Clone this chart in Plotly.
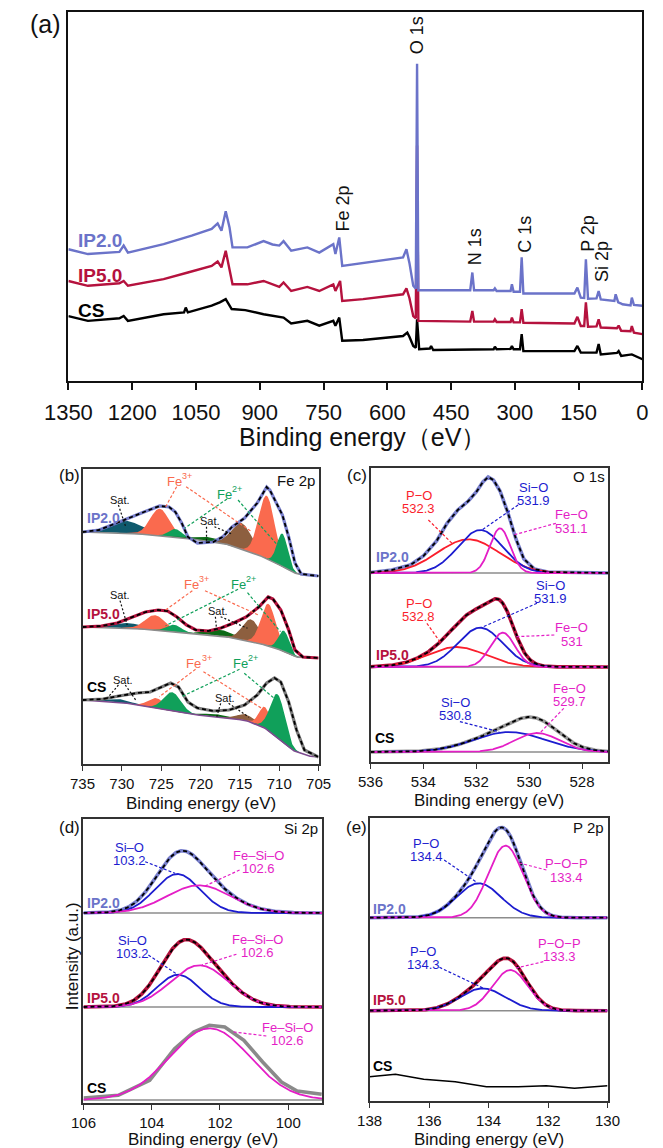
import numpy as np
import plotly.graph_objects as go

W, H = 663, 1148
FONT = "Liberation Sans, Arial, Helvetica, sans-serif"

# ===================== DATA =====================
# ---- (a) survey spectra (binding energy eV, intensity a.u.) ----
survey_ticks = [1350, 1200, 1050, 900, 750, 600, 450, 300, 150, 0]
survey_IP2_E = [1350, 1304, 1230, 1220, 1210, 1126, 1060, 1013, 999, 990, 980, 971, 964, 929, 891, 870, 854, 844, 826, 788,
                760, 727, 722, 713, 706, 676, 610, 563, 555, 548, 539, 533, 530, 527, 405, 400, 396, 350, 347, 343,
                310, 307, 303, 288, 284, 280, 160, 153, 145, 137, 133, 128, 108, 103, 98, 66, 63, 57, 50, 47,
                28, 25, 20, 0]
survey_IP2_I = [35.7, 34.4, 35.0, 36.7, 34.8, 37.1, 39.4, 41.2, 42.7, 40.7, 46.0, 41.6, 36.2, 36.2, 37.9, 37.0, 36.7, 37.9, 35.3, 36.2,
                34.8, 37.1, 34.4, 38.9, 31.2, 31.7, 32.6, 33.5, 35.7, 32.0, 25.8, 25.0, 86.0, 24.6, 24.6, 29.4, 24.6, 24.6, 25.1, 24.4,
                24.4, 26.2, 24.2, 24.2, 33.5, 23.7, 23.7, 25.3, 22.6, 22.5, 33.0, 22.3, 22.4, 24.4, 22.1, 21.7, 23.5, 21.3, 21.0, 20.8,
                20.5, 22.6, 20.6, 20.4]
survey_IP5_E = [1350, 1304, 1230, 1220, 1210, 1126, 1069, 1013, 999, 990, 980, 971, 964, 929, 891, 854, 844, 826, 788, 760,
                727, 722, 711, 706, 657, 563, 555, 548, 539, 533, 530, 527, 405, 400, 396, 350, 347, 343, 310, 307,
                303, 288, 284, 280, 160, 153, 145, 137, 133, 128, 108, 103, 98, 60, 56, 50, 28, 25, 20, 0]
survey_IP5_I = [27.1, 25.8, 26.5, 27.1, 25.8, 27.6, 29.4, 31.2, 32.4, 30.8, 35.3, 30.3, 26.2, 26.2, 27.1, 25.5, 26.7, 24.4, 25.5, 24.4,
                26.2, 24.4, 27.1, 21.7, 22.2, 23.5, 25.1, 22.5, 17.6, 17.0, 63.8, 16.3, 16.1, 19.0, 16.1, 16.1, 16.7, 16.0, 16.0, 17.2,
                15.9, 15.9, 19.5, 15.8, 15.6, 17.4, 14.9, 14.9, 21.3, 14.7, 14.8, 16.7, 14.5, 14.3, 15.0, 13.6, 13.5, 14.9, 13.1, 12.7]
survey_CS_E = [1350, 1304, 1230, 1220, 1210, 1126, 1078, 1074, 1069, 1013, 994, 980, 966, 934, 891, 844, 826, 788, 760, 727,
               722, 713, 706, 657, 563, 553, 548, 539, 533, 530, 525, 500, 497, 492, 350, 347, 343, 310, 307, 303,
               288, 284, 280, 160, 153, 145, 108, 103, 98, 60, 56, 50, 25, 0]
survey_CS_I = [17.6, 16.3, 17.0, 17.6, 16.3, 18.1, 18.6, 19.9, 18.6, 20.4, 21.3, 22.2, 19.5, 19.2, 18.1, 17.2, 15.6, 16.3, 15.0, 16.3,
               15.0, 17.2, 10.9, 11.1, 12.2, 13.1, 12.0, 9.5, 9.0, 16.7, 8.6, 8.8, 9.5, 8.4, 8.6, 9.3, 8.6, 8.7, 9.5, 8.6,
               8.6, 12.7, 8.1, 8.1, 9.5, 7.7, 7.7, 10.0, 7.2, 7.6, 8.1, 6.8, 7.2, 5.9]
survey_peak_labels = ["O 1s", "Fe 2p", "N 1s", "C 1s", "P 2p", "Si 2p"]
survey_peak_E = [530, 703, 394, 277, 127, 94]

sample_names = ["IP2.0", "IP5.0", "CS"]

# ---- (b) Fe 2p ----
fe_ticks = [735, 730, 725, 720, 715, 710, 705]
fe_comp_names = ["Sat.", "Fe3+", "Fe2+", "Sat.", "Sat.", "Fe3+", "Fe2+"]
fe_IP2_bg_E = [735, 729.2, 723.2, 717.2, 713.2, 710.4, 708.4, 707.2, 705]
fe_IP2_bg_I = [232, 231, 227, 221, 211, 201, 192, 189, 188]
fe_IP2_E = [735, 732.9, 731.3, 729.2, 727.2, 725.2, 724.0, 723.2, 722.4, 721.6, 720.4, 718.4, 717.2, 716.0, 714.4, 712.8,
            711.6, 711.2, 710.4, 709.6, 708.8, 708.0, 707.2, 705]
fe_IP2_I = [232, 234, 239, 246, 252, 258, 257, 252, 241, 227, 221, 222, 227, 237, 246, 261, 277, 274, 261, 249, 227, 201, 190, 188]
fe_IP2_center = [729.5, 725.2, 723.2, 719.0, 714.8, 711.6, 709.6]
fe_IP2_height = [12, 27, 8, 4, 26, 63, 33]
fe_IP2_fwhm = [5.0, 2.8, 2.0, 4.0, 3.0, 2.4, 1.6]

fe_IP5_bg_E = [735, 729, 723.0, 717.2, 713.2, 710.4, 708.0, 705]
fe_IP5_bg_I = [137, 136, 132, 128, 122, 116, 107, 106]
fe_IP5_E = [735, 732.6, 730.6, 729, 727, 725.4, 724.2, 723, 721.8, 720.6, 719, 717.4, 715.8, 714.2, 712.6, 711.4, 710.8,
            709.8, 708.8, 708, 707, 705]
fe_IP5_I = [137, 138, 141, 146, 152, 154, 153, 147, 139, 134, 133, 136, 141, 147, 157, 167, 165, 154, 134, 114, 107, 106]
fe_IP5_center = [729.5, 725.8, 723.4, 717.5, 713.6, 711.4, 709.4]
fe_IP5_height = [5, 15, 7, 6, 22, 42, 21]
fe_IP5_fwhm = [5.0, 3.0, 2.2, 4.0, 2.6, 2.2, 1.6]

fe_CS_bg_E = [735, 730.4, 726.4, 722.4, 718.4, 714.4, 712.0, 710.4, 708.4, 706.4, 705]
fe_CS_bg_I = [64, 62, 57, 51, 47, 44, 37, 27, 14, 8, 7]
fe_CS_E = [735, 732.4, 730.4, 728, 726.4, 724.8, 723.8, 722.8, 721.6, 720.4, 718.4, 716.4, 714.4, 712.8, 711.6, 710.6,
           709.8, 708.8, 707.8, 706.8, 705]
fe_CS_I = [64, 65, 68, 71, 72, 78, 81, 77, 62, 56, 53, 54, 59, 69, 81, 86, 82, 62, 34, 14, 7]
fe_CS_center = [730.5, 725.6, 723.6, 718.0, 714.2, 711.8, 710.2]
fe_CS_height = [3, 10, 19, 3, 6, 21, 44]
fe_CS_fwhm = [4.0, 2.5, 2.6, 4.0, 3.0, 1.8, 2.2]

# ---- (c) O 1s ----
o1s_ticks = [536, 534, 532, 530, 528]
o1s_offset = [189, 95, 10]
o1s_IP2_E = [536, 535.2, 534.5, 534.0, 533.5, 533.1, 532.7, 532.3, 532.0, 531.75, 531.55, 531.35, 531.1, 530.8, 530.5,
             530.2, 529.8, 529.3, 527]
o1s_IP2_I = [0.5, 3, 8, 17, 32, 50, 63, 72, 81, 91, 96, 93, 82, 60, 34, 14, 4, 1, 0]
o1s_IP2_names = ["P−O", "Si−O", "Fe−O"]
o1s_IP2_center = [532.3, 531.85, 531.1]
o1s_IP2_height = [33.7, 43, 44.7]
o1s_IP2_fwhm = [2.75, 2.0, 0.9]
o1s_IP5_names = ["P−O", "Si−O", "Fe−O"]
o1s_IP5_center = [532.75, 531.85, 531.0]
o1s_IP5_height = [20, 39.3, 34.3]
o1s_IP5_fwhm = [2.6, 2.0, 1.1]
o1s_CS_names = ["Si−O", "Fe−O"]
o1s_CS_center = [530.75, 529.7]
o1s_CS_height = [20, 19]
o1s_CS_fwhm = [3.2, 2.0]

# ---- (d) Si 2p ----
si_ticks = [106, 104, 102, 100]
si_offset = [190, 96, 3]
si_IP2_names = ["Si–O", "Fe–Si–O"]
si_IP2_center = [103.25, 102.62]
si_IP2_height = [39, 27.7]
si_IP2_fwhm = [1.55, 2.2]
si_IP5_names = ["Si–O", "Fe–Si–O"]
si_IP5_center = [103.23, 102.6]
si_IP5_height = [32.3, 41.7]
si_IP5_fwhm = [1.45, 2.0]
si_CS_names = ["Fe–Si–O"]
si_CS_center = [102.3]
si_CS_height = [71.7]
si_CS_fwhm = [2.75]
si_CS_E = [106, 104.98, 104.06, 103.33, 102.77, 102.31, 101.86, 101.30, 100.75, 100.20, 99.74, 99.02]
si_CS_I = [2, 4.7, 19.7, 51.3, 68, 74.7, 73, 59.7, 38, 18, 9, 5.7]

# ---- (e) P 2p ----
p_ticks = [138, 136, 134, 132, 130]
p_offset = [183.3, 90.3]
p_IP2_names = ["P−O", "P−O−P"]
p_IP2_center = [134.33, 133.43]
p_IP2_height = [34.4, 72]
p_IP2_fwhm = [1.75, 1.38]
p_IP5_names = ["P−O", "P−O−P"]
p_IP5_center = [134.2, 133.27]
p_IP5_height = [22.3, 40.7]
p_IP5_fwhm = [1.8, 1.4]
p_CS_E = [138, 137.13, 136.18, 135.12, 134.07, 133.0, 132.06, 131.11, 130]
p_CS_I = [24.3, 26.7, 21.7, 19.3, 14.3, 14.3, 15.3, 12.7, 15.3]

# ===================== STYLE =====================
C_IP2 = "#6b73c9"
C_IP2_T = "rgba(107,115,201,0.9)"
C_IP5 = "#b5123e"
C_RED = "#fa1e2c"
C_BLUE = "#1c1ccf"
C_MAG = "#e41ec6"
C_GREY = "#8c8c8c"
C_SALMON = "#fa6a4e"
C_GREEN = "#10a05a"
C_TEAL = "#0f5a6d"
C_DKGREEN = "#0c6a16"
C_BROWN = "#8d5f3f"
FE_COLORS = [C_TEAL, C_SALMON, C_GREEN, C_DKGREEN, C_BROWN, C_SALMON, C_GREEN]


def gauss(x, c, a, w):
    return a * np.exp(-4 * np.log(2) * ((x - c) / w) ** 2)


fig = go.Figure()


def add_line(x, y, xa, ya, color, width, dash=None):
    fig.add_trace(go.Scatter(x=list(x), y=list(y), mode="lines",
                             line=dict(color=color, width=width, dash=dash),
                             xaxis=xa, yaxis=ya, showlegend=False, hoverinfo="skip"))


# ---- (a) ----
add_line(survey_CS_E, survey_CS_I, "x", "y", "#000000", 2.4)
add_line(survey_IP5_E, survey_IP5_I, "x", "y", C_IP5, 2.4)
add_line(survey_IP2_E, survey_IP2_I, "x", "y", C_IP2, 2.4)

# ---- (b) ----
grid_b = np.linspace(735, 705, 500)
fe_sets = [
    (fe_IP2_bg_E, fe_IP2_bg_I, fe_IP2_E, fe_IP2_I, fe_IP2_center, fe_IP2_height, fe_IP2_fwhm, C_IP2_T, C_GREY),
    (fe_IP5_bg_E, fe_IP5_bg_I, fe_IP5_E, fe_IP5_I, fe_IP5_center, fe_IP5_height, fe_IP5_fwhm, C_IP5, C_GREY),
    (fe_CS_bg_E, fe_CS_bg_I, fe_CS_E, fe_CS_I, fe_CS_center, fe_CS_height, fe_CS_fwhm, "#7a7a7a", "#7d4a8f"),
]
for bgE, bgI, eE, eI, cen, hgt, fw, ecol, bgcol in fe_sets:
    bg = np.interp(grid_b, bgE[::-1], bgI[::-1])
    for c, a, w, col in zip(cen, hgt, fw, FE_COLORS):
        g = gauss(grid_b, c, a, w)
        m = g > 0.05
        xs = grid_b[m]
        fig.add_trace(go.Scatter(x=np.r_[xs, xs[::-1]], y=np.r_[(bg + g)[m], bg[m][::-1]],
                                 mode="lines", fill="toself", fillcolor=col, line=dict(width=0, color=col),
                                 xaxis="x2", yaxis="y2", showlegend=False, hoverinfo="skip"))
    add_line(grid_b, bg, "x2", "y2", bgcol, 1.6)
    add_line(eE, eI, "x2", "y2", ecol, 3.2)
    add_line(eE, eI, "x2", "y2", "#000000", 1.8, "4px,3px")


def fit_section(xa, ya, grid, offset, cen, hgt, fw, cols, ecol, envE=None, envI=None, draw_env=True):
    add_line([grid[0], grid[-1]], [offset, offset], xa, ya, C_GREY, 1.6)
    comps = [gauss(grid, c, a, w) for c, a, w in zip(cen, hgt, fw)]
    if envE is None:
        ex = grid
        ey = offset + np.sum(comps, axis=0)
    else:
        ex = np.array(envE)
        ey = offset + np.array(envI)
    add_line(ex, ey, xa, ya, ecol, 3.6)
    for g, col in zip(comps, cols):
        add_line(grid, offset + g, xa, ya, col, 1.8)
    if draw_env:
        add_line(ex, ey, xa, ya, "#000000", 1.8, "4px,3px")


# ---- (c) ----
grid_c = np.linspace(536, 527, 400)
fit_section("x3", "y3", grid_c, o1s_offset[0], o1s_IP2_center, o1s_IP2_height, o1s_IP2_fwhm,
            [C_RED, C_BLUE, C_MAG], C_IP2_T, o1s_IP2_E, o1s_IP2_I)
fit_section("x3", "y3", grid_c, o1s_offset[1], o1s_IP5_center, o1s_IP5_height, o1s_IP5_fwhm,
            [C_RED, C_BLUE, C_MAG], C_IP5)
fit_section("x3", "y3", grid_c, o1s_offset[2], o1s_CS_center, o1s_CS_height, o1s_CS_fwhm,
            [C_BLUE, C_MAG], "#9a9a9a")

# ---- (d) ----
grid_d = np.linspace(106, 99, 400)
fit_section("x4", "y4", grid_d, si_offset[0], si_IP2_center, si_IP2_height, si_IP2_fwhm,
            [C_BLUE, C_MAG], C_IP2_T)
fit_section("x4", "y4", grid_d, si_offset[1], si_IP5_center, si_IP5_height, si_IP5_fwhm,
            [C_BLUE, C_MAG], C_IP5)
fit_section("x4", "y4", grid_d, si_offset[2], si_CS_center, si_CS_height, si_CS_fwhm,
            [C_MAG], "#8a8a8a", si_CS_E, si_CS_I, draw_env=False)

# ---- (e) ----
grid_e = np.linspace(138, 130, 400)
fit_section("x5", "y5", grid_e, p_offset[0], p_IP2_center, p_IP2_height, p_IP2_fwhm,
            [C_BLUE, C_MAG], C_IP2_T)
fit_section("x5", "y5", grid_e, p_offset[1], p_IP5_center, p_IP5_height, p_IP5_fwhm,
            [C_BLUE, C_MAG], C_IP5)
add_line(p_CS_E, p_CS_I, "x5", "y5", "#000000", 1.6)

# ===================== LAYOUT =====================
def dx(a, b):
    return [a / W, b / W]


def dy(top, bottom):
    return [1 - bottom / H, 1 - top / H]


def sub_x(dom, rng, ticks, anchor):
    return dict(domain=dom, range=rng, tickvals=ticks, anchor=anchor, showline=True, mirror=True,
                linecolor="#333333", linewidth=1.5, ticks="outside", ticklen=5, tickwidth=1.4,
                tickcolor="#333333", tickfont=dict(size=15, color="#111111", family=FONT),
                showgrid=False, zeroline=False)


def sub_y(dom, rng, anchor):
    return dict(domain=dom, range=rng, anchor=anchor, showline=True, mirror=True, linecolor="#333333",
                linewidth=1.5, ticks="", showticklabels=False, showgrid=False, zeroline=False)


ann = []


def T(text, px, py, color="#111111", size=13, bold=False, xanchor="center", angle=0):
    if bold:
        text = "<b>" + text + "</b>"
    ann.append(dict(text=text, x=px / W, y=1 - py / H, xref="paper", yref="paper", showarrow=False,
                    xanchor=xanchor, yanchor="middle", textangle=angle,
                    font=dict(family=FONT, size=size, color=color)))


def FE(charge, px, py, color):
    # "Fe" with a raised charge, as two plain texts
    T("Fe", px + 2, py, color, 13, xanchor="right")
    T(charge, px - 1.5, py - 5, color, 9, xanchor="left")


shapes = []


def L(x0, y0, x1, y1, color, dash="3px,2px", width=1.2):
    shapes.append(dict(type="line", xref="paper", yref="paper", x0=x0 / W, y0=1 - y0 / H,
                       x1=x1 / W, y1=1 - y1 / H, line=dict(color=color, width=width, dash=dash)))


# (a) labels (data coordinates)
for lab, e, i in zip(survey_peak_labels, survey_peak_E, [93.7, 46.6, 36.5, 39.8, 40.0, 32.4]):
    ann.append(dict(text=lab, x=e, y=i, xref="x", yref="y", showarrow=False, textangle=-90,
                    font=dict(family=FONT, size=18, color="#111111")))
for nm, i, col in zip(sample_names, [38.2, 28.5, 19.2], [C_IP2, C_IP5, "#000000"]):
    ann.append(dict(text="<b>" + nm + "</b>", x=1332, y=i, xref="x", yref="y", showarrow=False,
                    xanchor="left", font=dict(family=FONT, size=19, color=col)))
T("(a)", 23, 24, size=25)
T("Binding energy（eV）", 358, 437, size=25)

# panel tags / titles
T("(b)", 48, 476, size=17)
T("(c)", 353, 476, size=17)
T("(d)", 48, 827, size=17)
T("(e)", 352, 827, size=17)
T("Fe 2p", 310, 480, size=15, xanchor="right")
T("O 1s", 617, 477, size=15, xanchor="right")
T("Si 2p", 314, 828, size=15, xanchor="right")
T("P 2p", 616, 827, size=15, xanchor="right")
T("Binding energy (eV)", 187, 803, size=17)
T("Binding energy (eV)", 493, 800, size=17)
T("Binding energy (eV)", 190, 1139, size=17)
T("Binding energy (eV)", 492, 1139, size=17)
T("Intensity (a.u.)", 51, 956, size=17, angle=-90)

# (b) labels
T(sample_names[0], 65, 518, C_IP2, 14, True, "left")
T(sample_names[1], 65, 614, C_IP5, 14, True, "left")
T(sample_names[2], 65, 687, "#000000", 14, True, "left")
# IP2.0
FE("3+", 167, 481, C_SALMON); FE("2+", 220, 494, C_GREEN)
T("Sat.", 102, 500, "#111111", 11); T("Sat.", 197, 521, "#111111", 11)
L(161.7, 486.7, 150, 506.7, C_SALMON); L(171.7, 486.7, 240, 531, C_SALMON)
L(215, 499, 170, 528.3, C_GREEN); L(226.7, 500, 268.3, 545, C_GREEN)
L(100, 505, 107.7, 526.7, "#111111", "2px,2px"); L(193.3, 526.7, 193.3, 541.7, "#111111", "2px,2px")
L(201.7, 526.7, 220, 534, "#111111", "2px,2px")
# IP5.0
FE("3+", 185, 584, C_SALMON); FE("2+", 235, 584, C_GREEN)
T("Sat.", 102, 595, "#111111", 11); T("Sat.", 205, 611, "#111111", 11)
L(178.3, 590.7, 150, 610, C_SALMON); L(191.7, 590.7, 248.3, 615, C_SALMON)
L(226.7, 589.3, 150, 625.7, C_GREEN); L(236.7, 592.7, 271.7, 631.7, C_GREEN)
L(101.7, 600.7, 109.3, 625, "#111111", "2px,2px"); L(202.7, 616.7, 204, 630, "#111111", "2px,2px")
L(208.3, 616.7, 236.7, 628.3, "#111111", "2px,2px")
# CS
FE("3+", 188, 663, C_SALMON); FE("2+", 237, 663, C_GREEN)
T("Sat.", 105, 680, "#111111", 11); T("Sat.", 213, 698, "#111111", 11)
L(181.7, 669.3, 143.3, 696.7, C_SALMON); L(190, 671.7, 251.7, 708.3, C_SALMON)
L(228.3, 669.3, 166.7, 696.7, C_GREEN); L(233.3, 673.3, 265, 698.3, C_GREEN)
L(100, 685, 87.3, 699.3, "#111111", "2px,2px"); L(107.3, 685, 118.3, 700, "#111111", "2px,2px")
L(208.3, 703.3, 204, 717.3, "#111111", "2px,2px"); L(216.7, 703.3, 238.3, 717.3, "#111111", "2px,2px")

# (c) labels
T(sample_names[0], 371, 557, C_IP2, 14, True, "left")
T(sample_names[1], 371, 655, C_IP5, 14, True, "left")
T(sample_names[2], 370, 738, "#000000", 14, True, "left")
T(o1s_IP2_names[0], 418, 495, C_RED); T("532.3", 418, 508.5, C_RED)
T(o1s_IP2_names[1], 540, 487, C_BLUE); T("531.9", 540, 500.5, C_BLUE)
T(o1s_IP2_names[2], 580, 515, C_MAG); T("531.1", 580, 528.5, C_MAG)
L(428.3, 520, 453.3, 543.3, C_RED); L(523.3, 505, 485, 530, C_BLUE); L(563.3, 523.3, 518.3, 535, C_MAG)
T(o1s_IP5_names[0], 418, 603, C_RED); T("532.8", 418, 616.5, C_RED)
T(o1s_IP5_names[1], 558, 585, C_BLUE); T("531.9", 558, 598.5, C_BLUE)
T(o1s_IP5_names[2], 580, 627, C_MAG); T("531", 580, 641, C_MAG)
L(426.7, 623.3, 441.7, 643.3, C_RED); L(543.3, 603.3, 485, 627.3, C_BLUE); L(561.7, 635, 520, 636.7, C_MAG)
T(o1s_CS_names[0], 457, 702, C_BLUE); T("530.8", 457, 715.5, C_BLUE)
T(o1s_CS_names[1], 578, 688, C_MAG); T("529.7", 578, 701.5, C_MAG)
L(461.7, 721.7, 503.3, 731.7, C_BLUE); L(571.7, 708.3, 546.7, 732.7, C_MAG)

# (d) labels
T(sample_names[0], 64.5, 903, C_IP2, 14, True, "left")
T(sample_names[1], 65, 998, C_IP5, 14, True, "left")
T(sample_names[2], 65, 1088, "#000000", 14, True, "left")
T(si_IP2_names[0], 112, 847, C_BLUE); T("103.2", 112, 860.5, C_BLUE)
T(si_IP2_names[1], 248, 855, C_MAG); T("102.6", 248, 868.5, C_MAG)
L(128.3, 861.7, 160, 873.3, C_BLUE); L(228.3, 870, 191.7, 886, C_MAG)
T(si_IP5_names[0], 115, 940, C_BLUE); T("103.2", 115, 953.5, C_BLUE)
T(si_IP5_names[1], 247, 939, C_MAG); T("102.6", 247, 952.5, C_MAG)
L(131.7, 955, 163.3, 975, C_BLUE); L(225, 954.3, 188.3, 965, C_MAG)
T(si_CS_names[0], 279, 1027, C_MAG); T("102.6", 279, 1040.5, C_MAG)
L(256.7, 1036, 220, 1031.7, C_MAG)

# (e) labels
T(sample_names[0], 368, 909, C_IP2, 14, True, "left")
T(sample_names[1], 368, 1000, C_IP5, 14, True, "left")
T(sample_names[2], 368, 1066, "#000000", 14, True, "left")
T(p_IP2_names[0], 426, 843, C_BLUE); T("134.4", 426, 856.5, C_BLUE)
T(p_IP2_names[1], 575, 863, C_MAG); T("133.4", 575, 877, C_MAG)
L(445, 860, 480, 882.7, C_BLUE); L(553.3, 870, 523.3, 862.7, C_MAG)
T(p_IP5_names[0], 423, 951, C_BLUE); T("134.3", 423, 964.5, C_BLUE)
T(p_IP5_names[1], 567, 943, C_MAG); T("133.3", 567, 956.5, C_MAG)
L(440, 967.3, 486.7, 988.3, C_BLUE); L(550, 961.7, 520, 968.3, C_MAG)

fig.update_layout(
    width=W, height=H, margin=dict(l=0, r=0, t=0, b=0),
    paper_bgcolor="white", plot_bgcolor="white", showlegend=False,
    font=dict(family=FONT, color="#111111"),
    xaxis=dict(domain=dx(47, 655), range=[1350, 0], tickvals=survey_ticks, anchor="y", showline=True,
               mirror=True, linecolor="#111111", linewidth=2, ticks="outside", ticklen=7, tickwidth=2,
               tickcolor="#111111", tickfont=dict(size=22, color="#111111", family=FONT),
               showgrid=False, zeroline=False, ticklabelstandoff=4),
    yaxis=dict(domain=dy(12, 381), range=[0, 100], anchor="x", showline=True, mirror=True,
               linecolor="#111111", linewidth=2, ticks="", showticklabels=False, showgrid=False, zeroline=False),
    xaxis2=sub_x(dx(62, 312), [735, 705], fe_ticks, "y2"),
    yaxis2=sub_y(dy(469, 764), [0, 295], "x2"),
    xaxis3=sub_x(dx(367, 619), [536, 527], o1s_ticks, "y3"),
    yaxis3=sub_y(dy(468, 762), [0, 294], "x3"),
    xaxis4=sub_x(dx(63, 316), [106, 99], si_ticks, "y4"),
    yaxis4=sub_y(dy(819, 1103), [0, 284], "x4"),
    xaxis5=sub_x(dx(366, 618), [138, 130], p_ticks, "y5"),
    yaxis5=sub_y(dy(818, 1101), [0, 283], "x5"),
    annotations=ann, shapes=shapes,
)

fig.write_html("out.html")
